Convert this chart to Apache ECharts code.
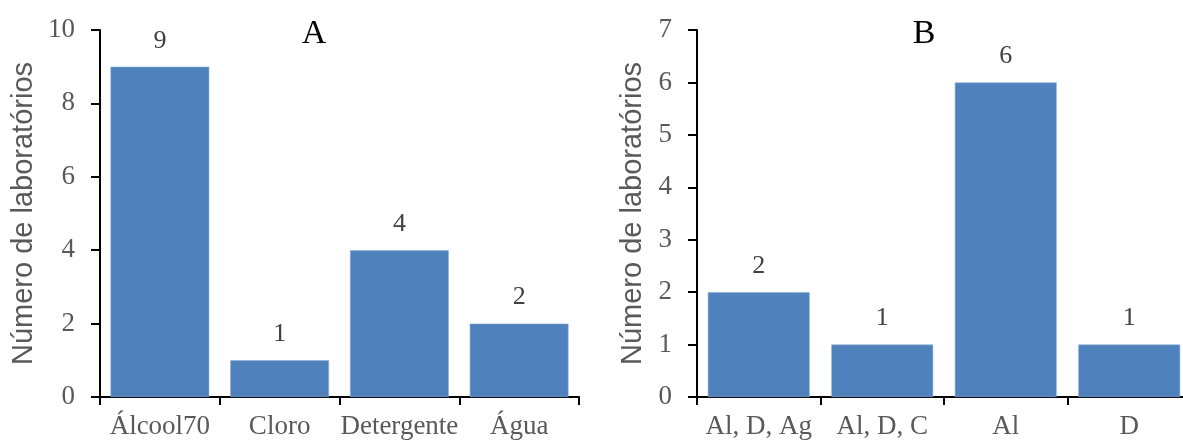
<!DOCTYPE html>
<html>
<head>
<meta charset="utf-8">
<script src="https://cdn.jsdelivr.net/npm/echarts@6/dist/echarts.min.js"></script>
<style>
  html, body { margin: 0; padding: 0; background: #fff; }
  #chart { width: 1183px; height: 440px; }
</style>
</head>
<body>
<div id="chart"></div>
<script>
// Panel A: products used for cleaning
const categoriesA = ['Álcool70', 'Cloro', 'Detergente', 'Água'];
const valuesA = [9, 1, 4, 2];
// Panel B: product combinations
const categoriesB = ['Al, D, Ag', 'Al, D, C', 'Al', 'D'];
const valuesB = [2, 1, 6, 1];

const yNameA = 'Número de laboratórios';
const yNameB = 'Número de laboratórios';
const panelTitles = ['A', 'B'];

const serif = '"Liberation Serif", "Times New Roman", serif';
const sans = '"Liberation Sans", Arial, sans-serif';
const barColor = '#4F81BD';

function xAxisFor(cats, gridIndex) {
  return {
    type: 'category',
    gridIndex: gridIndex,
    data: cats,
    axisLine: { lineStyle: { color: '#000', width: 2 } },
    axisTick: { show: true, length: 8, lineStyle: { color: '#000', width: 2 } },
    axisLabel: { interval: 0, fontFamily: serif, fontSize: 27, color: '#595959', margin: 16 }
  };
}

function yAxisFor(max, interval, name, gap, gridIndex) {
  return {
    type: 'value',
    gridIndex: gridIndex,
    min: 0,
    max: max,
    interval: interval,
    name: name,
    nameLocation: 'middle',
    nameGap: gap,
    nameTextStyle: { fontFamily: sans, fontSize: 29, color: '#595959' },
    axisLine: { show: true, lineStyle: { color: '#000', width: 2 } },
    axisTick: { show: true, length: 9, lineStyle: { color: '#000', width: 2 } },
    axisLabel: { fontFamily: serif, fontSize: 27, color: '#595959', margin: 25 },
    splitLine: { show: false }
  };
}

function barSeries(values, idx) {
  return {
    type: 'bar',
    xAxisIndex: idx,
    yAxisIndex: idx,
    data: values,
    barWidth: '82.5%',
    itemStyle: { color: barColor, borderColor: '#8eaed6', borderWidth: 0.6 },
    label: {
      show: true,
      position: 'top',
      distance: 13,
      fontFamily: serif,
      fontSize: 26,
      color: '#404040'
    }
  };
}

const chart = echarts.init(document.getElementById('chart'), null, { renderer: 'canvas' });
chart.setOption({
  animation: false,
  backgroundColor: '#fff',
  title: [
    { text: panelTitles[0], left: 309, top: 12, textAlign: 'center',
      textStyle: { fontFamily: serif, fontSize: 34, fontWeight: 'normal', color: '#000' } },
    { text: panelTitles[1], left: 919, top: 12, textAlign: 'center',
      textStyle: { fontFamily: serif, fontSize: 34, fontWeight: 'normal', color: '#000' } }
  ],
  grid: [
    { left: 100, top: 30, width: 479, height: 367, outerBoundsMode: 'none', containLabel: false },
    { left: 697, top: 30, width: 494, height: 367, outerBoundsMode: 'none', containLabel: false }
  ],
  xAxis: [xAxisFor(categoriesA, 0), xAxisFor(categoriesB, 1)],
  yAxis: [yAxisFor(10, 2, yNameA, 62, 0), yAxisFor(7, 1, yNameB, 50, 1)],
  series: [barSeries(valuesA, 0), barSeries(valuesB, 1)]
});
</script>
</body>
</html>
